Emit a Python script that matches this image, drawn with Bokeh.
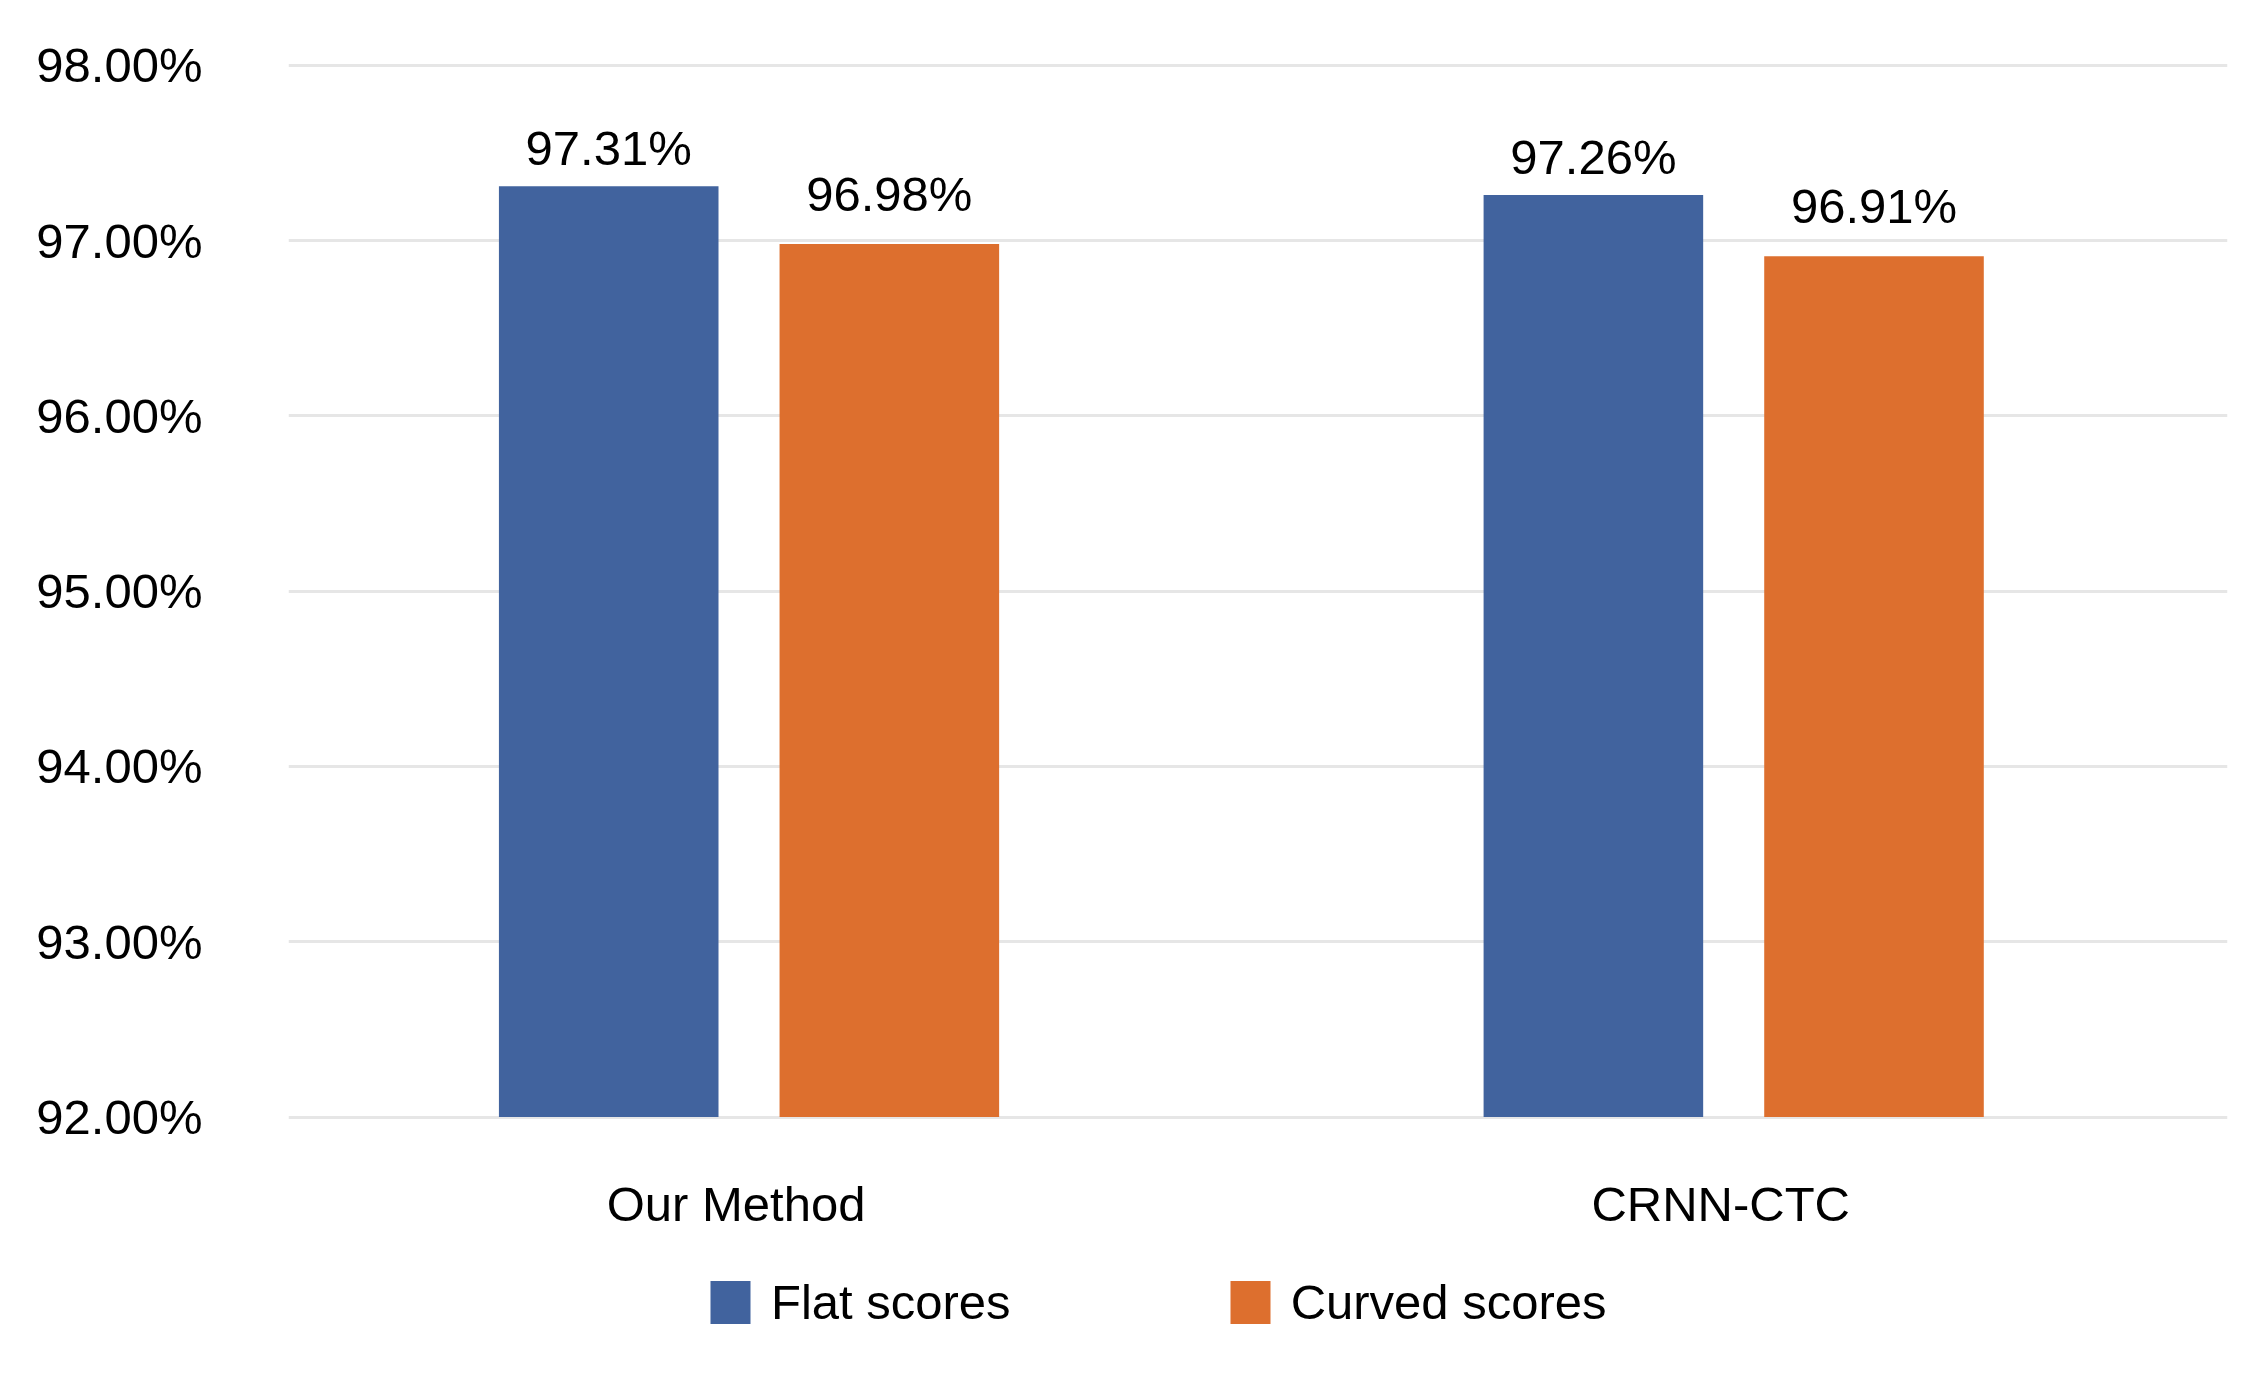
import numpy as np
from bokeh.plotting import figure
from bokeh.models import (ColumnDataSource, Range1d, FixedTicker, Legend, LegendItem,
                          NumeralTickFormatter)
from bokeh.transform import dodge
from bokeh.embed import file_html
from bokeh.resources import INLINE
from bokeh.core.properties import value

categories = ["Our Method", "CRNN-CTC"]
flat_scores = [97.31, 97.26]
curved_scores = [96.98, 96.91]
y_ticks = [92, 93, 94, 95, 96, 97, 98]

FONT = "Liberation Sans"
FS = "49px"
BLUE = "#41639E"
ORANGE = "#DD6F2E"

x = np.arange(len(categories))
src = ColumnDataSource(dict(
    x=x,
    cat=categories,
    flat=flat_scores,
    curved=curved_scores,
    flat_lbl=[f"{v:.2f}%" for v in flat_scores],
    curved_lbl=[f"{v:.2f}%" for v in curved_scores],
    base=[min(y_ticks)] * len(categories),
))

W, H = 2247, 1358
p = figure(width=W, height=H, output_backend="svg", toolbar_location=None,
           x_range=Range1d(-0.4677, 1.5015), y_range=Range1d(90.668, 98.141),
           min_border_left=288, min_border_right=20, min_border_top=40,
           min_border_bottom=8)
p.outline_line_color = None
p.background_fill_color = "white"
p.border_fill_color = "white"
p.xaxis.visible = False

off = 0.1425
bw = 0.223
r_flat = p.vbar(x=dodge("x", -off), top="flat", bottom="base", width=bw, source=src,
                fill_color=BLUE, line_color=None)
r_curved = p.vbar(x=dodge("x", off), top="curved", bottom="base", width=bw, source=src,
                  fill_color=ORANGE, line_color=None)

p.text(x=dodge("x", -off), y="flat", text="flat_lbl", source=src,
       text_align="center", text_baseline="bottom", y_offset=-11,
       text_font=value(FONT), text_font_size=FS, text_color="#000000")
p.text(x=dodge("x", off), y="curved", text="curved_lbl", source=src,
       text_align="center", text_baseline="bottom", y_offset=-23,
       text_font=value(FONT), text_font_size=FS, text_color="#000000")

# category labels under the bars
p.text(x="x", y="base", text="cat", source=src, text_align="center",
       text_baseline="middle", x_offset=-13, y_offset=87,
       text_font=value(FONT), text_font_size=FS, text_color="#000000")

# y axis
p.yaxis.ticker = FixedTicker(ticks=y_ticks)
p.yaxis.formatter = NumeralTickFormatter(format="0.00")
p.yaxis.major_label_overrides = {t: f"{t:.2f}%" for t in y_ticks}
p.yaxis.axis_line_color = None
p.yaxis.major_tick_line_color = None
p.yaxis.minor_tick_line_color = None
p.yaxis.major_tick_out = 0
p.yaxis.major_tick_in = 0
p.yaxis.major_label_standoff = 86
p.yaxis.major_label_text_font = FONT
p.yaxis.major_label_text_font_size = FS
p.yaxis.major_label_text_color = "#000000"

p.xgrid.grid_line_color = None
p.ygrid.grid_line_color = "#E6E6E6"
p.ygrid.grid_line_width = 3

legend = Legend(items=[LegendItem(label="Flat scores", renderers=[r_flat]),
                       LegendItem(label="Curved scores", renderers=[r_curved])],
                orientation="horizontal", location=(417, 20),
                glyph_width=50, glyph_height=54, label_standoff=16, spacing=214,
                padding=0, margin=0, border_line_color=None,
                background_fill_alpha=0,
                label_text_font=FONT, label_text_font_size=FS,
                label_text_color="#000000")
p.add_layout(legend, "center")

open("out.html", "w").write(file_html(p, INLINE))
